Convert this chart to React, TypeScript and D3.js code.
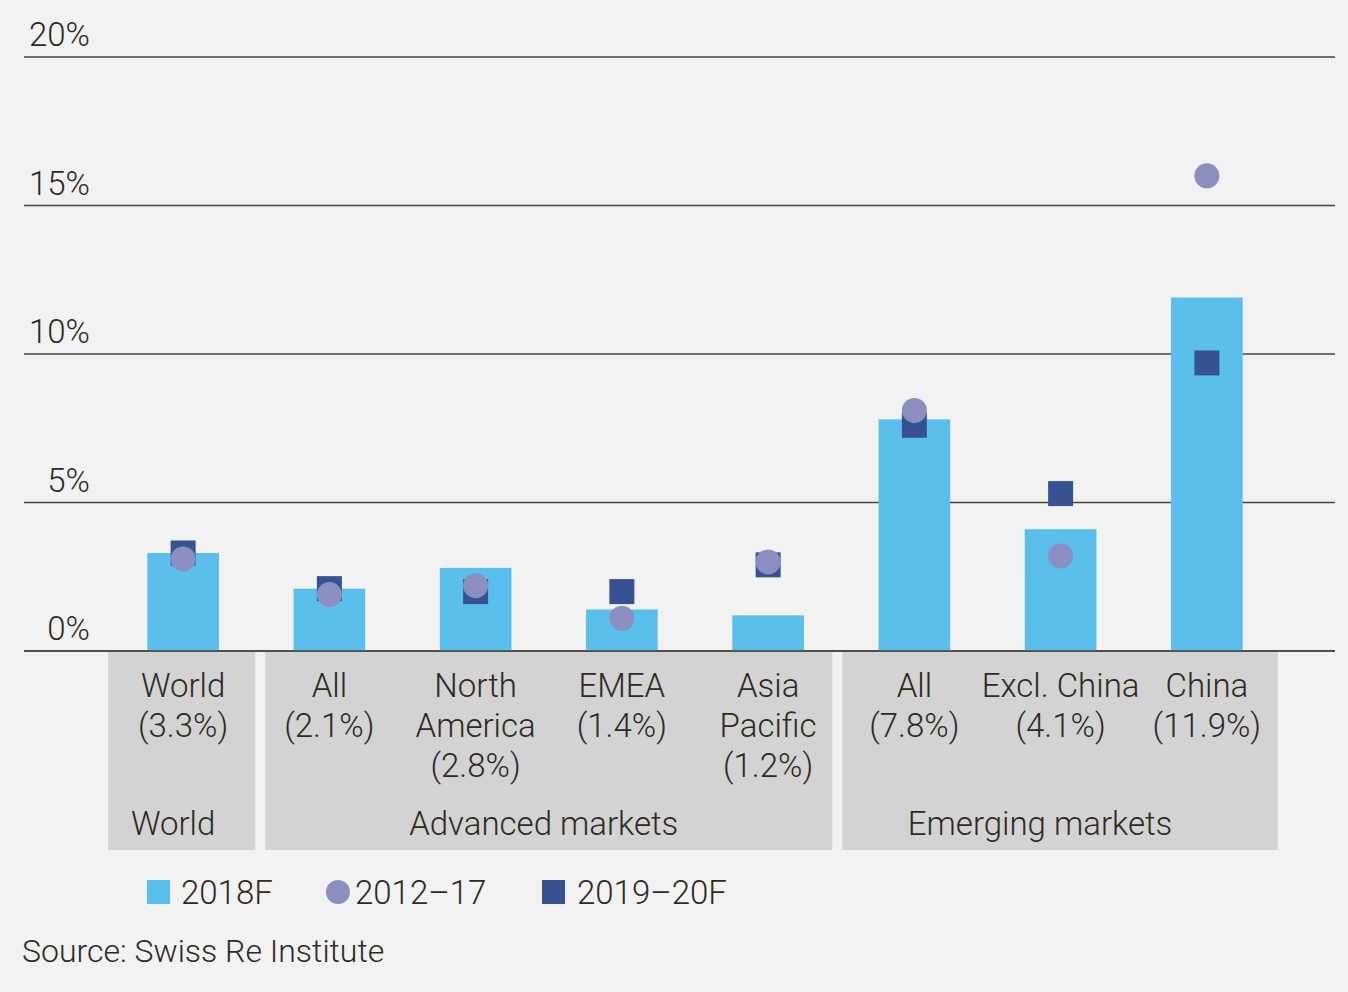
import * as d3 from "d3";

const W = 1348;
const H = 992;

const categories = ["world", "adv", "na", "emea", "ap", "em", "exc", "china"];
const catLines = [
  ["World"],
  ["All"],
  ["North", "America"],
  ["EMEA"],
  ["Asia", "Pacific"],
  ["All"],
  ["Excl. China"],
  ["China"],
];
const bars2018 = [3.3, 2.1, 2.8, 1.4, 1.2, 7.8, 4.1, 11.9];
const dots2012 = [3.1, 1.9, 2.2, 1.1, 3.0, 8.1, 3.2, 16.0];
const squares2019 = [3.3, 2.1, 2.0, 2.0, 2.9, 7.6, 5.3, 9.7];
const groups = [
  { name: "World", from: 0, to: 0 },
  { name: "Advanced markets", from: 1, to: 4 },
  { name: "Emerging markets", from: 5, to: 7 },
];
const yTicks = [0, 5, 10, 15, 20];

const FONT = "Roboto, 'Liberation Sans', sans-serif";
const FS = 33;
const INK = "#2e2a1e";
const BG = "#f2f2f2";
const BOX = "#d3d3d3";
const C_BAR = "#5bbfeb";
const C_DOT = "#8a8fbf";
const C_SQ = "#365292";

export default function App() {
  const x = d3
    .scaleBand<string>()
    .domain(categories)
    .range([110, 1280])
    .paddingInner(0.51)
    .paddingOuter(0.255);
  const y = d3.scaleLinear().domain([0, 20]).range([651, 57]);
  const bw = x.bandwidth();
  const cx = (i: number) => (x(categories[i]) ?? 0) + bw / 2;

  const boxTop = y(0) + 1;
  const boxBottom = 850;

  // box edges: outer edges hug the first/last band, inner gaps sit near the midpoints
  const edges = groups.map((g, gi) => {
    const left =
      gi === 0 ? cx(g.from) - 75 : (cx(g.from - 1) + cx(g.from)) / 2 + (gi === 1 ? 9 : 1);
    const right =
      gi === groups.length - 1
        ? cx(g.to) + 71
        : (cx(g.to) + cx(g.to + 1)) / 2 - (gi === 0 ? 1 : 9);
    return { left, right };
  });

  return (
    <svg
      width={W}
      height={H}
      style={{ display: "block", position: "fixed", top: 0, left: 0 }}
      fontFamily={FONT}
    >
      <rect width={W} height={H} fill={BG} />

      {/* gridlines + tick labels */}
      {yTicks.map((t) => (
        <g key={t}>
          <line x1={24} x2={1335} y1={y(t)} y2={y(t)} stroke="#4a4535" strokeWidth={1.3} />
          <text x={90} y={y(t) - 11} textAnchor="end" fontSize={FS} fontWeight={300} fill={INK}>
            {t}%
          </text>
        </g>
      ))}

      {/* group boxes */}
      {groups.map((g, gi) => {
        const { left, right } = edges[gi];
        const labelX = gi === 0 ? cx(0) - 10 : (left + right) / 2 - (gi === 2 ? 20 : 5);
        return (
          <g key={g.name}>
            <rect x={left} y={boxTop} width={right - left} height={boxBottom - boxTop} fill={BOX} />
            <text x={labelX} y={835} textAnchor="middle" fontSize={FS} fontWeight={300} fill={INK}>
              {g.name}
            </text>
          </g>
        );
      })}

      {/* bars */}
      {bars2018.map((v, i) => (
        <rect
          key={categories[i]}
          x={x(categories[i])}
          y={y(v)}
          width={bw}
          height={y(0) - y(v)}
          fill={C_BAR}
        />
      ))}

      {/* baseline on top */}
      <line x1={24} x2={1335} y1={y(0)} y2={y(0)} stroke="#4a4535" strokeWidth={1.3} />

      {/* squares 2019–20F */}
      {squares2019.map((v, i) => (
        <rect key={i} x={cx(i) - 12.5} y={y(v) - 12.5} width={25} height={25} fill={C_SQ} />
      ))}

      {/* dots 2012–17 */}
      {dots2012.map((v, i) => (
        <circle key={i} cx={cx(i)} cy={y(v)} r={12.5} fill={C_DOT} />
      ))}

      {/* category labels */}
      {categories.map((c, i) => {
        const lines = [...catLines[i], `(${d3.format(".1f")(bars2018[i])}%)`];
        return (
          <text key={c} textAnchor="middle" fontSize={FS} fontWeight={300} fill={INK}>
            {lines.map((l, li) => (
              <tspan key={li} x={cx(i)} y={697 + li * 40}>
                {l}
              </tspan>
            ))}
          </text>
        );
      })}

      {/* legend */}
      <g fontSize={FS} fontWeight={300} fill={INK}>
        <rect x={147} y={880} width={23} height={24} fill={C_BAR} />
        <text x={181} y={904}>2018F</text>
        <circle cx={338} cy={892} r={12} fill={C_DOT} />
        <text x={355} y={904}>2012–17</text>
        <rect x={542} y={880} width={23} height={24} fill={C_SQ} />
        <text x={577} y={904}>2019–20F</text>
      </g>

      <text x={22} y={962} fontSize={32} fontWeight={300} fill={INK}>
        Source: Swiss Re Institute
      </text>
    </svg>
  );
}
